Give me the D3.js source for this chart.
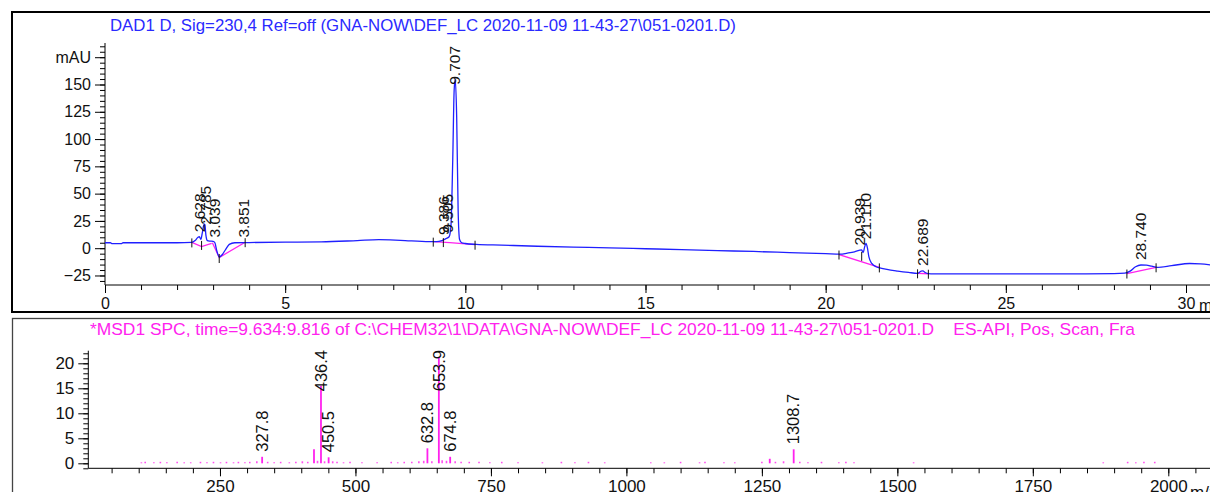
<!DOCTYPE html>
<html><head><meta charset="utf-8">
<script src="https://cdnjs.cloudflare.com/ajax/libs/d3/7.8.5/d3.min.js"></script>
<style>
html,body{margin:0;padding:0;background:#fff;overflow:hidden;}
svg{display:block;font-family:"Liberation Sans",Arial,sans-serif;}
</style></head>
<body>
<svg id="chart" width="1210" height="492"></svg>
<script>
// ---------------- DATA ----------------
const uvTitle = "DAD1 D, Sig=230,4 Ref=off (GNA-NOW\\DEF_LC 2020-11-09 11-43-27\\051-0201.D)";
const msTitle = "*MSD1 SPC, time=9.634:9.816 of C:\\CHEM32\\1\\DATA\\GNA-NOW\\DEF_LC 2020-11-09 11-43-27\\051-0201.D    ES-API, Pos, Scan, Fra";

// chromatogram [time (min), absorbance (mAU)]
const chromatogram = [
  [0,5],[0.15,5],[0.2,4.2],[0.45,4.2],[0.5,5],[1,5],[2,5],[2.4,5.3],[2.5,7],[2.58,10],[2.62,10.5],
  [2.66,8],[2.7,14],[2.74,21],[2.77,22],[2.8,12],[2.84,7],[2.9,6.5],[3.0,6.3],[3.05,5],[3.1,-2],
  [3.17,-8],[3.25,-6],[3.35,-1],[3.45,3.5],[3.6,5],[4,5.2],[5,5.5],[6,5.8],[7,7],[7.6,7.8],
  [8.2,7.2],[9,6],[9.2,6],[9.35,7],[9.45,8.5],[9.55,10.5],[9.6,20],[9.65,80],[9.69,145],[9.72,155],
  [9.76,120],[9.8,35],[9.84,8],[9.9,5],[10,4.3],[10.3,3.5],[11,2.8],[12,1.8],[13,1],[14,0.3],
  [15,-0.5],[16,-1.3],[17,-2.2],[18,-3],[19,-4],[20,-5],[20.4,-5.5],[20.6,-4.5],[20.8,-3.3],
  [21.0,-1.5],[21.04,-4],[21.08,1],[21.12,4.5],[21.16,0],[21.2,-8],[21.28,-14],[21.4,-17],
  [21.5,-18],[21.7,-19.5],[22,-21],[22.3,-22.2],[22.55,-23],[22.65,-21],[22.7,-20.8],[22.75,-22],
  [22.85,-23.3],[23,-23.5],[24,-23.6],[25,-23.6],[26,-23.6],[27,-23.5],[28,-23.3],[28.3,-22.8],
  [28.45,-21],[28.6,-17],[28.75,-15.4],[28.9,-15.5],[29.05,-16.5],[29.2,-17.5],[29.6,-16],
  [30.1,-14],[30.4,-14.3],[30.7,-15.4]
];

// integration baselines (mAU)
const baselines = [
  [[2.41,5.3],[2.68,1.5],[2.96,4.5]],
  [[2.98,5],[3.17,-8.5],[3.89,5.5]],
  [[9.11,6],[9.57,5.2],[10.27,3.2]],
  [[20.37,-5.8],[21.49,-17.6]],
  [[22.55,-23],[22.85,-23.4]],
  [[28.36,-23.2],[29.17,-17.5]]
];
// integration event markers [time, level]
const events = [
  [2.41,5.3],[2.68,3],[3.17,-9],[3.89,5.5],[9.11,6],[9.39,5.6],[10.27,3.2],
  [20.37,-5.8],[21.0,-7],[21.49,-17.6],[22.55,-23],[22.85,-23.4],[28.36,-23.2],[29.17,-17.5]
];
const peakTimes = [2.628, 2.785, 3.039, 3.851, 9.386, 9.505, 9.707, 20.939, 21.110, 22.689, 28.740];

const uvXTicks = [0,5,10,15,20,25,30];
const uvYTicks = [-25,0,25,50,75,100,125,150];

// mass spectrum [m/z, abundance]
const msPeaks = [
  [327.8,1.3],[423.5,2.8],[436.4,15.5],[450.5,1.2],[632.8,3.0],[653.9,21.3],[674.8,1.3],
  [1264.5,0.9],[1308.7,2.8]
];
const msLabels = [327.8, 436.4, 450.5, 632.8, 653.9, 674.8, 1308.7];
const msNoise = [
  [105,0.2],[112,0.3],[128,0.2],[140,0.3],[152,0.2],[171,0.3],[184,0.2],[196,0.2],[214,0.3],
  [226,0.2],[238,0.3],[251,0.2],[262,0.3],[275,0.2],[284,0.3],[296,0.2],[305,0.3],[318,0.4],
  [338,0.3],[350,0.2],[362,0.3],[378,0.2],[390,0.3],[402,0.4],[412,0.3],[430,0.5],[443,0.4],
  [458,0.4],[466,0.3],[478,0.2],[490,0.3],[512,0.2],[540,0.2],[566,0.3],[578,0.2],[590,0.3],
  [604,0.3],[617,0.4],[626,0.5],[641,0.4],[660,0.6],[668,0.5],[684,0.4],[695,0.3],[710,0.3],
  [728,0.3],[748,0.2],[770,0.3],[800,0.2],[845,0.2],[880,0.3],[905,0.2],[930,0.3],[960,0.2],
  [1045,0.2],[1070,0.2],[1100,0.3],[1135,0.2],[1145,0.3],[1180,0.2],[1200,0.2],[1250,0.3],
  [1275,0.3],[1290,0.4],[1320,0.3],[1335,0.2],[1360,0.3],[1392,0.2],[1405,0.3],[1420,0.2],
  [1530,0.2],[1880,0.2],[1925,0.3],[1940,0.2],[1955,0.3],[1975,0.3]
];
const msXTicks = [250,500,750,1000,1250,1500,1750,2000];
const msYTicks = [0,5,10,15,20];

// ---------------- DRAW ----------------
const svg = d3.select("#chart");
const FONT = 15.5;
const fmt = d3.format("d");

// Panels
svg.append("rect").attr("x",12).attr("y",12).attr("width",1250).attr("height",300)
  .attr("fill","none").attr("stroke","#000").attr("stroke-width",2);
svg.append("rect").attr("x",12.5).attr("y",318.5).attr("width",1250).attr("height",200)
  .attr("fill","none").attr("stroke","#444").attr("stroke-width",1.3);

// ===== UV panel =====
const xT = d3.scaleLinear().domain([0,30]).range([105,1186]);
const yT = d3.scaleLinear().domain([0,150]).range([248.2,84.5]);
const axisY0 = 285;

svg.append("text").attr("x",110).attr("y",31).attr("fill","#2a2aff")
  .attr("font-size",16.8).text(uvTitle);

// x axis
const gx = svg.append("g").attr("transform",`translate(0,${axisY0})`);
gx.append("line").attr("x1",105).attr("x2",1260).attr("stroke","#000");
gx.call(g => {
  const minor = d3.axisBottom(xT).tickValues(d3.range(0,32,1)).tickSize(5).tickFormat("");
  g.append("g").call(minor);
  const major = d3.axisBottom(xT).tickValues(uvXTicks).tickSize(8).tickPadding(5).tickFormat(fmt);
  g.append("g").call(major);
  g.selectAll(".domain").remove();
  g.selectAll("line").attr("stroke","#000");
  g.selectAll("text").attr("font-size",16).attr("fill","#111").attr("font-family",null);
});
svg.append("text").attr("x",1199).attr("y",axisY0+26).attr("font-size",16).attr("fill","#111").text("min");

// y axis
const gy = svg.append("g").attr("transform","translate(105,0)");
gy.append("line").attr("y1",43).attr("y2",axisY0).attr("stroke","#000");
gy.call(g => {
  const minor = d3.axisLeft(yT).tickValues(d3.range(-30,190,5)).tickSize(5).tickFormat("");
  g.append("g").call(minor);
  const major = d3.axisLeft(yT).tickValues(uvYTicks.concat([175])).tickSize(10).tickPadding(4)
     .tickFormat(d => d===175 ? "mAU" : fmt(d));
  g.append("g").call(major);
  g.selectAll(".domain").remove();
  g.selectAll("line").attr("stroke","#000");
  g.selectAll("text").attr("font-size",16).attr("fill","#111").attr("font-family",null);
});

// baselines
const lineT = d3.line().x(d=>xT(d[0])).y(d=>yT(d[1]));
svg.append("g").selectAll("path").data(baselines).join("path")
  .attr("d",lineT).attr("fill","none").attr("stroke","#ff22ee").attr("stroke-width",1.3);

// chromatogram
svg.append("path").datum(chromatogram)
  .attr("d", d3.line().x(d=>xT(d[0])).y(d=>yT(d[1])).curve(d3.curveMonotoneX))
  .attr("fill","none").attr("stroke","#1f1fff").attr("stroke-width",1.3);

// event ticks
svg.append("g").selectAll("line").data(events).join("line")
  .attr("x1",d=>xT(d[0])).attr("x2",d=>xT(d[0]))
  .attr("y1",d=>yT(d[1])-4).attr("y2",d=>yT(d[1])+5)
  .attr("stroke","#111").attr("stroke-width",1);

// peak labels
function chromAt(t){
  for(let i=1;i<chromatogram.length;i++){
    const a=chromatogram[i-1], b=chromatogram[i];
    if(t<=b[0]){ const f=(t-a[0])/(b[0]-a[0]); return a[1]+f*(b[1]-a[1]); }
  }
  return chromatogram[chromatogram.length-1][1];
}
const lblT = svg.append("g");
peakTimes.forEach(t => {
  const txt = t.toFixed(3);
  const len = txt.length*0.556*FONT - 0.278*FONT;
  let end = yT(chromAt(t)) - 5;
  if (end - len < 46) end = 46 + len;
  lblT.append("text").attr("transform",`translate(${xT(t)},${end}) rotate(-90)`)
    .attr("dy","0.35em").attr("font-size",FONT).attr("fill","#111").text(txt);
});

// ===== MS panel =====
const xB = d3.scaleLinear().domain([0,2000]).range([84.5,1168.3]);
const yB = d3.scaleLinear().domain([0,20]).range([463.3,363.3]);
const axisY1 = 468.3;

svg.append("text").attr("x",90).attr("y",335).attr("fill","#ff22ee")
  .attr("font-size",17.4).attr("xml:space","preserve").style("white-space","pre").text(msTitle);

const gx2 = svg.append("g").attr("transform",`translate(0,${axisY1})`);
gx2.append("line").attr("x1",88.3).attr("x2",1260).attr("stroke","#000");
gx2.call(g => {
  const minor = d3.axisBottom(xB).tickValues(d3.range(50,2200,50)).tickSize(5).tickFormat("");
  g.append("g").call(minor);
  const major = d3.axisBottom(xB).tickValues(msXTicks).tickSize(8).tickPadding(4).tickFormat(fmt);
  g.append("g").call(major);
  g.selectAll(".domain").remove();
  g.selectAll("line").attr("stroke","#000");
  g.selectAll("text").attr("font-size",17).attr("fill","#111").attr("font-family",null);
});
svg.append("text").attr("x",1190).attr("y",axisY1+30).attr("font-size",17).attr("fill","#111").text("m/z");

const gy2 = svg.append("g").attr("transform","translate(88.3,0)");
gy2.append("line").attr("y1",350.7).attr("y2",axisY1).attr("stroke","#000");
gy2.call(g => {
  const minor = d3.axisLeft(yB).tickValues(d3.range(-1,23,1)).tickSize(5).tickFormat("");
  g.append("g").call(minor);
  const major = d3.axisLeft(yB).tickValues(msYTicks).tickSize(10).tickPadding(4).tickFormat(fmt);
  g.append("g").call(major);
  g.selectAll(".domain").remove();
  g.selectAll("line").attr("stroke","#000");
  g.selectAll("text").attr("font-size",17).attr("fill","#111").attr("font-family",null);
});

// noise sticks
svg.append("g").selectAll("line").data(msNoise).join("line")
  .attr("x1",d=>xB(d[0])).attr("x2",d=>xB(d[0]))
  .attr("y1",yB(0)).attr("y2",d=>yB(d[1]))
  .attr("stroke","#ff22ee").attr("stroke-width",1.6).attr("stroke-opacity",0.8);
// peaks
svg.append("g").selectAll("line").data(msPeaks).join("line")
  .attr("x1",d=>xB(d[0])).attr("x2",d=>xB(d[0]))
  .attr("y1",yB(0)).attr("y2",d=>yB(d[1]))
  .attr("stroke","#ff22ee").attr("stroke-width",1.8);

// ms labels
const FONT2 = 16.5;
const lblB = svg.append("g");
msLabels.forEach(m => {
  const pk = msPeaks.find(p => p[0]===m);
  const txt = m.toFixed(1);
  const len = (txt.length-1)*0.556*FONT2 + 0.278*FONT2;
  let end = yB(pk[1]) - 5;
  if (end - len < 350) end = 350 + len;
  lblB.append("text").attr("transform",`translate(${xB(m)},${end}) rotate(-90)`)
    .attr("dy","0.35em").attr("font-size",FONT2).attr("fill","#111").text(txt);
});
</script>
</body></html>
